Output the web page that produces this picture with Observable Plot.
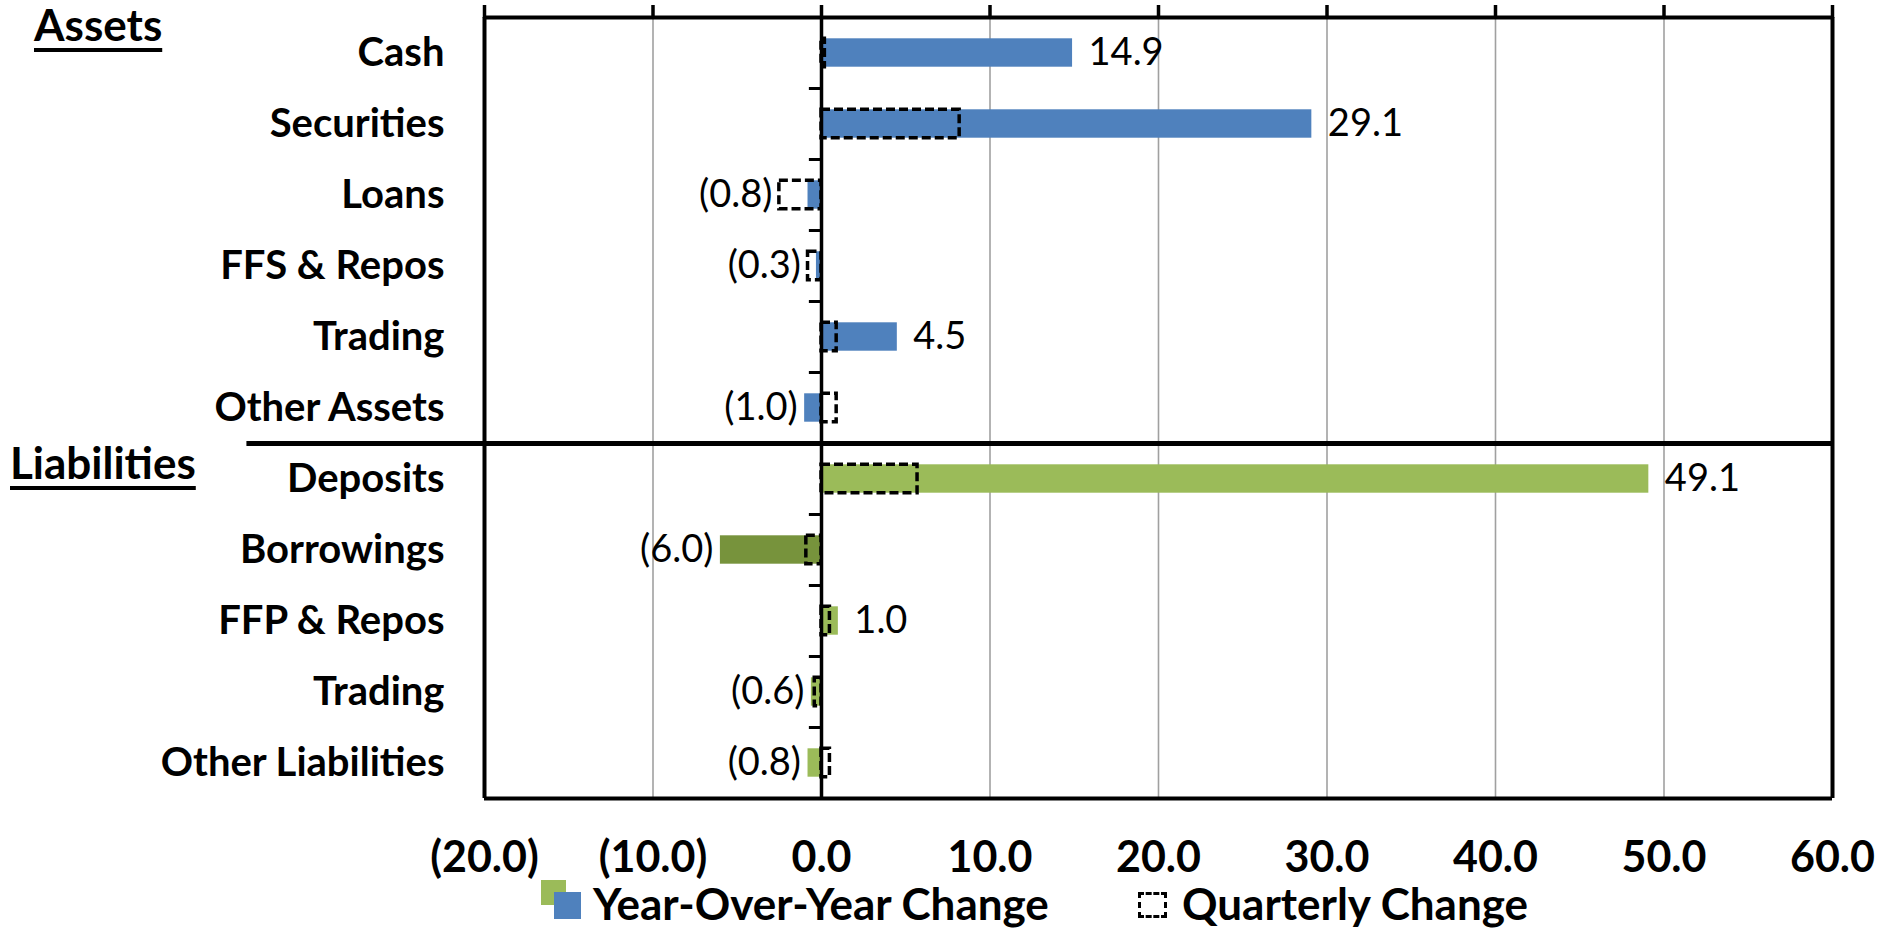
<!DOCTYPE html>
<html>
<head>
<meta charset="utf-8">
<script src="https://cdn.jsdelivr.net/npm/d3@7"></script>
<script src="https://cdn.jsdelivr.net/npm/@observablehq/plot@0.6"></script>
<style>
  html, body { margin: 0; padding: 0; background: #fff; }
  #wrap { position: relative; width: 1881px; height: 929px; font-family: Lato, sans-serif; color: #000; }
  #chart svg { display: block; }
  .heading { position: absolute; font-weight: bold; font-size: 44px; line-height: 44px; white-space: nowrap;
             text-decoration: underline; text-decoration-thickness: 4px; text-underline-offset: 7px; }
  #legend { position: absolute; left: 0; top: 880px; width: 1881px; height: 49px; }
  .sw { position: absolute; }
  .ltext { position: absolute; font-weight: bold; font-size: 44px; line-height: 36px; white-space: nowrap; }
</style>
</head>
<body>
<div id="wrap">
  <div id="chart"></div>
  <div class="heading" id="hAssets" style="left:34px; top:2px;">Assets</div>
  <div class="heading" id="hLiab" style="left:10px; top:440px;">Liabilities</div>
  <div id="legend">
    <div class="sw" style="left:541px; top:0px; width:25px; height:25px; background:#9BBB59;"></div>
    <div class="sw" style="left:554px; top:12px; width:27px; height:27px; background:#4F81BD;"></div>
    <div class="ltext" style="left:593px; top:5px;">Year-Over-Year Change</div>
    <div class="sw" style="left:1138px; top:12px; width:23px; height:20px; border:3px dashed #000;"></div>
    <div class="ltext" style="left:1182px; top:5px;">Quarterly Change</div>
  </div>
</div>
<script>
// ---- data ----
const groups = ["Assets","Assets","Assets","Assets","Assets","Assets",
                "Liabilities","Liabilities","Liabilities","Liabilities","Liabilities"];
const categories = ["Cash","Securities","Loans","FFS & Repos","Trading","Other Assets",
                    "Deposits","Borrowings","FFP & Repos","Trading","Other Liabilities"];
const yoyChange = [14.9, 29.1, -0.8, -0.3, 4.5, -1.0, 49.1, -6.0, 1.0, -0.6, -0.8];
const quarterlyChange = [0.2, 8.2, -2.5, -0.8, 0.9, 0.9, 5.7, -0.9, 0.5, -0.4, 0.5];
const xTicks = [-20, -10, 0, 10, 20, 30, 40, 50, 60];

// ---- styling ----
const darkerPoints = ["Liabilities:Borrowings"];
const colorFor = d => darkerPoints.includes(d.group + ":" + d.label) ? "#77933C"
                    : (d.group === "Assets" ? "#4F81BD" : "#9BBB59");
const fmt = v => v < 0 ? `(${(-v).toFixed(1)})` : v.toFixed(1);

const rows = categories.map((label, i) => ({
  i, label, group: groups[i], yoy: yoyChange[i], q: quarterlyChange[i]
}));
const nRows = rows.length;
const boundaries = d3.range(0, nRows + 1);
const splitAt = groups.indexOf("Liabilities");

const chart = Plot.plot({
  width: 1881,
  height: 880,
  marginTop: 17,
  marginBottom: 82,
  marginLeft: 484,
  marginRight: 49,
  style: { fontFamily: "Lato, sans-serif", background: "#fff", overflow: "visible" },
  x: { domain: [-20, 60], axis: null, label: null },
  y: { domain: [0, nRows], reverse: true, axis: null, label: null },
  marks: [
    // light gridlines
    Plot.ruleX(xTicks.filter(t => t !== -20 && t !== 0 && t !== 60), { stroke: "#a0a0a0", strokeWidth: 1.6 }),
    // year-over-year bars
    Plot.rect(rows, {
      x1: d => 0, x2: "yoy",
      y1: d => d.i + 0.3, y2: d => d.i + 0.7,
      fill: colorFor
    }),
    // quarterly change dashed boxes
    Plot.rect(rows, {
      x1: d => 0, x2: "q",
      y1: d => d.i + 0.3, y2: d => d.i + 0.7,
      fill: "none", stroke: "#000", strokeWidth: 3.5, strokeDasharray: "9,4"
    }),
    // frame
    Plot.ruleY([0, nRows], { stroke: "#000", strokeWidth: 4 }),
    Plot.ruleX([-20, 60], { stroke: "#000", strokeWidth: 4 }),
    // zero axis
    Plot.ruleX([0], { stroke: "#000", strokeWidth: 3.5 }),
    // category ticks on zero axis
    Plot.ruleY(boundaries, { x1: -0.72, x2: 0, stroke: "#000", strokeWidth: 3 }),
    // top tick marks
    Plot.axisX(xTicks, { anchor: "top", tickSize: 13, strokeWidth: 3.5, tickFormat: () => "", label: null }),
    // bottom tick labels
    Plot.axisX(xTicks, { anchor: "bottom", tickSize: 0, tickPadding: 43, tickFormat: fmt,
      fontSize: 43, fontWeight: "bold", label: null }),
    // Assets / Liabilities divider
    Plot.ruleY([splitAt], { x1: -34.1, x2: 60, stroke: "#000", strokeWidth: 5 }),
    // category labels
    Plot.text(rows, { x: d => -20, y: d => d.i + 0.5, text: "label", textAnchor: "end", dx: -40,
      fontSize: 40, fontWeight: "bold", fill: "#000" }),
    // value labels
    Plot.text(rows.filter(d => d.yoy >= 0), {
      x: d => Math.max(d.yoy, d.q), y: d => d.i + 0.5, text: d => fmt(d.yoy),
      textAnchor: "start", dx: 16, fontSize: 38, fill: "#000"
    }),
    Plot.text(rows.filter(d => d.yoy < 0), {
      x: d => Math.min(d.yoy, d.q), y: d => d.i + 0.5, text: d => fmt(d.yoy),
      textAnchor: "end", dx: -7, fontSize: 38, fill: "#000"
    })
  ]
});
document.getElementById("chart").appendChild(chart);
</script>
</body>
</html>
